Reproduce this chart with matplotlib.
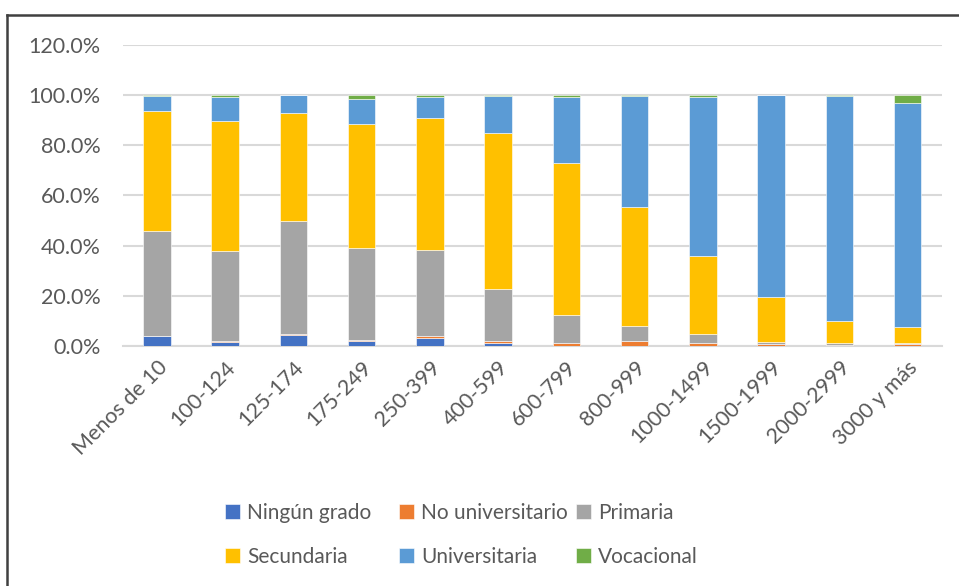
import numpy as np
import matplotlib
matplotlib.use("Agg")
import matplotlib.pyplot as plt
from matplotlib.lines import Line2D
from matplotlib.ticker import FuncFormatter, MultipleLocator

plt.rcParams['font.family'] = ['Lato', 'DejaVu Sans']

categories = ['Menos de 10', '100-124', '125-174', '175-249', '250-399', '400-599',
              '600-799', '800-999', '1000-1499', '1500-1999', '2000-2999', '3000 y más']

# shares in percent
ningun = [4.0, 1.6, 4.4, 2.0, 3.0, 1.2, 0.0, 0.0, 0.0, 0.0, 0.0, 0.0]
no_univ = [0.0, 0.2, 0.4, 0.3, 1.0, 0.7, 1.1, 2.0, 1.2, 0.7, 0.2, 0.8]
primaria = [41.9, 36.0, 45.1, 36.7, 34.1, 20.8, 11.4, 6.1, 3.6, 1.0, 1.1, 0.2]
secundaria = [47.7, 52.0, 43.1, 49.6, 52.7, 62.0, 60.3, 47.3, 31.1, 17.7, 8.7, 6.6]
universitaria = [6.1, 9.3, 7.0, 9.9, 8.4, 15.0, 26.4, 44.3, 63.3, 80.4, 89.7, 89.2]
vocacional = [0.3, 0.9, 0.0, 1.5, 0.8, 0.3, 0.8, 0.3, 0.8, 0.2, 0.3, 3.2]

series = [('Ningún grado', ningun, '#4472C4'),
          ('No universitario', no_univ, '#ED7D31'),
          ('Primaria', primaria, '#A5A5A5'),
          ('Secundaria', secundaria, '#FFC000'),
          ('Universitaria', universitaria, '#5B9BD5'),
          ('Vocacional', vocacional, '#70AD47')]

fig = plt.figure(figsize=(9.59, 5.86), dpi=100)
ax = fig.add_axes([0.128, 0.4096, 0.854, 0.514])

x = np.arange(len(categories))
bottom = np.zeros(len(categories))
for name, vals, col in series:
    v = np.array(vals)
    ax.bar(x, v, 0.4, bottom=bottom, color=col, label=name,
           edgecolor='white', linewidth=0.4, zorder=3)
    bottom += v

ax.set_xlim(-0.5, len(categories) - 0.5)
ax.set_ylim(0, 120)
ax.yaxis.set_major_locator(MultipleLocator(20))
ax.yaxis.set_major_formatter(FuncFormatter(lambda v, p: f'{v:.1f}%'))
ax.grid(axis='y', color='#D9D9D9', linewidth=1.5, zorder=0)
for s in ['top', 'right', 'left']:
    ax.spines[s].set_visible(False)
ax.spines['bottom'].set_color('#D9D9D9')
ax.spines['bottom'].set_linewidth(1.5)
ax.tick_params(axis='both', length=0, labelsize=15.5, labelcolor='#595959')
ax.tick_params(axis='y', pad=16)
ax.set_xticks(x)
ax.set_xticklabels(categories, rotation=45, ha='right', rotation_mode='anchor')
ax.tick_params(axis='x', pad=8)

# legend: three fixed-width columns, filled row by row like the original
h, l = ax.get_legend_handles_labels()
col_x = [225, 399, 576]
for c in range(3):
    idx = [c, c + 3]
    fig.legend([h[i] for i in idx], [l[i] for i in idx], loc='upper left',
               bbox_to_anchor=(col_x[c] / 959, 1 - 503 / 586), ncol=1, frameon=False,
               fontsize=15, labelcolor='#595959', handlelength=0.7, handleheight=0.7,
               handletextpad=0.35, labelspacing=1.15, borderpad=0, borderaxespad=0)

# chart frame
fig.add_artist(Line2D([7 / 959, 7 / 959], [0, 1 - 15 / 586], transform=fig.transFigure,
                      color='#404040', linewidth=1.8))
fig.add_artist(Line2D([7 / 959, 1], [1 - 15 / 586, 1 - 15 / 586], transform=fig.transFigure,
                      color='#404040', linewidth=1.8))

fig.savefig('out.png', dpi=100)
